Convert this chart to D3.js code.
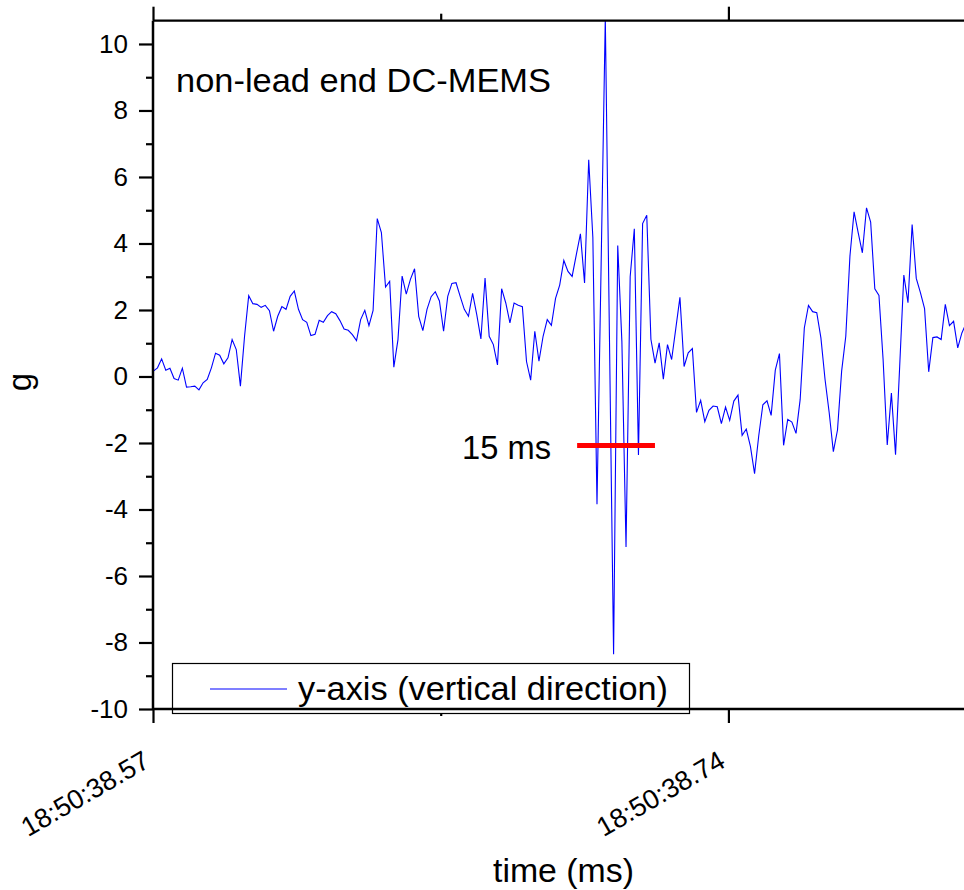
<!DOCTYPE html>
<html>
<head>
<meta charset="utf-8">
<script src="https://cdn.jsdelivr.net/npm/d3@7"></script>
<style>
  body { margin: 0; background: #fff; }
  svg text { font-family: "Liberation Sans", Arial, sans-serif; fill: #000; }
</style>
</head>
<body>
<svg id="chart" width="964" height="890"></svg>
<script>
// acceleration samples (g), y-axis of the non-lead end DC-MEMS
const accelY = [
  0.16, 0.26, 0.53, 0.19, 0.25, -0.06, -0.11, 0.25, -0.32, -0.31,
  -0.29, -0.40, -0.19, -0.09, 0.26, 0.70, 0.64, 0.38, 0.56, 1.11,
  0.81, -0.29, 1.21, 2.43, 2.19, 2.17, 2.08, 2.14, 1.98, 1.36,
  1.81, 2.10, 2.02, 2.41, 2.57, 2.02, 1.71, 1.63, 1.23, 1.27,
  1.69, 1.63, 1.83, 1.95, 1.89, 1.68, 1.43, 1.39, 1.26, 1.08,
  1.71, 1.99, 1.53, 1.99, 4.75, 4.33, 2.69, 2.86, 0.28, 1.11,
  3.02, 2.48, 2.92, 3.24, 1.81, 1.38, 2.02, 2.40, 2.55, 2.27,
  1.36, 2.41, 2.80, 2.82, 2.41, 2.02, 1.81, 2.50, 1.86, 1.13,
  2.96, 1.21, 0.96, 0.35, 2.64, 2.21, 1.61, 2.21, 2.14, 2.10,
  0.45, -0.11, 1.36, 0.46, 1.21, 1.71, 1.54, 2.35, 2.75, 3.49,
  3.16, 3.01, 3.66, 4.29, 2.81, 6.52, 4.18, -3.84, 3.40, 10.80,
  1.20, -8.35, 3.94, 1.05, -5.13, 3.00, 4.44, -2.36, 4.60, 4.85,
  1.12, 0.40, 1.01, -0.08, 0.96, 0.51, 1.44, 2.38, 0.30, 0.71,
  0.84, -1.08, -0.72, -1.36, -1.02, -0.89, -0.91, -1.42, -0.92, -1.32,
  -0.74, -0.56, -1.77, -1.58, -2.10, -2.92, -1.79, -0.85, -0.73, -1.17,
  0.19, 0.69, -2.07, -1.29, -1.37, -1.71, -0.69, 1.46, 2.14, 1.95,
  1.92, 1.16, -0.09, -1.09, -2.26, -1.61, 0.16, 1.21, 3.62, 4.95,
  4.32, 3.72, 5.07, 4.64, 2.64, 2.44, 0.51, -2.06, -0.50, -2.35,
  0.31, 3.05, 2.22, 4.57, 2.95, 2.52, 2.04, 0.14, 1.17, 1.19,
  1.11, 2.17, 1.53, 1.66, 0.86, 1.31, 1.59
];

// sample timing, ms after 18:50:38.57
const sampleStartMs = 0.1;
const sampleStepMs = 1.225;

const xDomainMs = [0, 239.6];
const xMajorTicks = [0, 170];
const xTickLabels = ["18:50:38.57", "18:50:38.74"];
const xMinorTicks = [85];

const yDomain = [-10, 10.7];
const yMajorTicks = [-10, -8, -6, -4, -2, 0, 2, 4, 6, 8, 10];
const yMinorTicks = [-9, -7, -5, -3, -1, 1, 3, 5, 7, 9];

// red "15 ms" marker
const markerSpanMs = [125.3, 148.3];
const markerLevel = -2.075;
const markerLabel = "15 ms";

const titleText = "non-lead end DC-MEMS";
const legendText = "y-axis (vertical direction)";
const xAxisTitle = "time (ms)";
const yAxisTitle = "g";

const svg = d3.select("#chart");
const W = 964, H = 890;
const margin = { left: 153, right: 0, top: 20.7, bottom: 181 };
const FONT = '"Liberation Sans", Arial, sans-serif';

const x = d3.scaleLinear()
  .domain(xDomainMs)
  .range([margin.left, W - margin.right]);
const y = d3.scaleLinear()
  .domain(yDomain)
  .range([H - margin.bottom, margin.top]);

svg.append("rect").attr("width", W).attr("height", H).attr("fill", "#fff");

svg.append("defs").append("clipPath").attr("id", "plot-clip")
  .append("rect")
  .attr("x", margin.left)
  .attr("y", margin.top)
  .attr("width", W - margin.left - margin.right)
  .attr("height", H - margin.bottom - margin.top);

// --- data line ---
const points = accelY.map((v, i) => ({ t: sampleStartMs + i * sampleStepMs, v }));
const line = d3.line().x((d) => x(d.t)).y((d) => y(d.v));

svg.append("path")
  .datum(points)
  .attr("clip-path", "url(#plot-clip)")
  .attr("fill", "none")
  .attr("stroke", "#0000ff")
  .attr("stroke-width", 1.1)
  .attr("d", line);

// --- red marker ---
svg.append("line")
  .attr("x1", x(markerSpanMs[0]))
  .attr("x2", x(markerSpanMs[1]))
  .attr("y1", y(markerLevel))
  .attr("y2", y(markerLevel))
  .attr("stroke", "#ff0000")
  .attr("stroke-width", 5);

svg.append("text")
  .attr("x", 462)
  .attr("y", 459)
  .attr("font-size", 33)
  .attr("textLength", 89)
  .attr("lengthAdjust", "spacingAndGlyphs")
  .text(markerLabel);

// --- axes ---
// left axis
const yAxisG = svg.append("g")
  .attr("transform", `translate(${margin.left},0)`)
  .call(d3.axisLeft(y)
    .tickValues(yMajorTicks)
    .tickSize(14)
    .tickPadding(11)
    .tickFormat((d) => String(d)));
yAxisG.select(".domain").remove();
yAxisG.selectAll(".tick line").attr("stroke-width", 2.2);
yAxisG.selectAll(".tick text")
  .attr("font-size", 26)
  .attr("font-family", FONT);

const yMinorG = svg.append("g")
  .attr("transform", `translate(${margin.left},0)`)
  .call(d3.axisLeft(y).tickValues(yMinorTicks).tickSize(7).tickFormat(""));
yMinorG.select(".domain").remove();
yMinorG.selectAll(".tick line").attr("stroke-width", 2.2);

// bottom axis
const xAxisG = svg.append("g")
  .attr("transform", `translate(0,${H - margin.bottom})`)
  .call(d3.axisBottom(x).tickValues(xMajorTicks).tickSize(14)
    .tickFormat((d, i) => xTickLabels[i]));
xAxisG.select(".domain").remove();
xAxisG.selectAll(".tick line").attr("stroke-width", 2.2);
xAxisG.selectAll(".tick text")
  .attr("font-size", 27)
  .attr("font-family", FONT)
  .attr("text-anchor", "end")
  .attr("dy", null)
  .attr("y", 0)
  .attr("transform", "translate(-2,57) rotate(-30)");

const xMinorG = svg.append("g")
  .attr("transform", `translate(0,${H - margin.bottom})`)
  .call(d3.axisBottom(x).tickValues(xMinorTicks).tickSize(7).tickFormat(""));
xMinorG.select(".domain").remove();
xMinorG.selectAll(".tick line").attr("stroke-width", 2.2);

// top axis (ticks outward, no labels)
const xTopG = svg.append("g")
  .attr("transform", `translate(0,${margin.top})`)
  .call(d3.axisTop(x).tickValues(xMajorTicks).tickSize(14).tickFormat(""));
xTopG.select(".domain").remove();
xTopG.selectAll(".tick line").attr("stroke-width", 2.2);
const xTopMinorG = svg.append("g")
  .attr("transform", `translate(0,${margin.top})`)
  .call(d3.axisTop(x).tickValues(xMinorTicks).tickSize(7).tickFormat(""));
xTopMinorG.select(".domain").remove();
xTopMinorG.selectAll(".tick line").attr("stroke-width", 2.2);

// --- legend ---
const legend = svg.append("g");
legend.append("rect")
  .attr("x", 172.5).attr("y", 663.5)
  .attr("width", 517).attr("height", 50)
  .attr("fill", "#fff")
  .attr("stroke", "#000")
  .attr("stroke-width", 1.2);
legend.append("line")
  .attr("x1", 210).attr("x2", 287)
  .attr("y1", 689).attr("y2", 689)
  .attr("stroke", "#0000ff")
  .attr("stroke-width", 1.1);
legend.append("text")
  .attr("x", 298).attr("y", 700)
  .attr("font-size", 33)
  .attr("textLength", 370)
  .attr("lengthAdjust", "spacingAndGlyphs")
  .text(legendText);

// frame lines, drawn last so they sit over the legend box
const frame = svg.append("g").attr("stroke", "#000");
frame.append("line")
  .attr("x1", margin.left).attr("x2", margin.left)
  .attr("y1", margin.top).attr("y2", H - margin.bottom)
  .attr("stroke-width", 2.5);
frame.append("line")
  .attr("x1", margin.left).attr("x2", W)
  .attr("y1", margin.top).attr("y2", margin.top)
  .attr("stroke-width", 2.2);
frame.append("line")
  .attr("x1", margin.left).attr("x2", W)
  .attr("y1", H - margin.bottom).attr("y2", H - margin.bottom)
  .attr("stroke-width", 2.5);

// --- titles ---
svg.append("text")
  .attr("x", 176).attr("y", 92)
  .attr("font-size", 33)
  .attr("textLength", 375)
  .attr("lengthAdjust", "spacingAndGlyphs")
  .text(titleText);

svg.append("text")
  .attr("x", 493).attr("y", 882)
  .attr("font-size", 33)
  .attr("textLength", 141)
  .attr("lengthAdjust", "spacingAndGlyphs")
  .text(xAxisTitle);

svg.append("text")
  .attr("transform", "translate(31,382) rotate(-90)")
  .attr("text-anchor", "middle")
  .attr("font-size", 33)
  .text(yAxisTitle);
</script>
</body>
</html>
